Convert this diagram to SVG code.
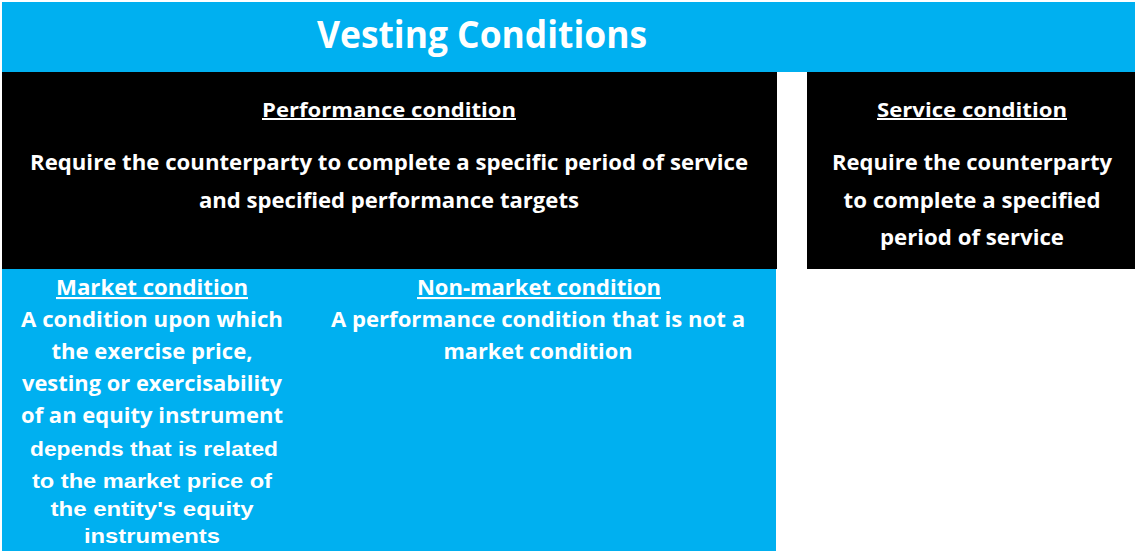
<svg xmlns="http://www.w3.org/2000/svg" width="1135" height="551" viewBox="0 0 1135 551">
<style>
.t{font-family:"Open Sans","Noto Sans",sans-serif;font-weight:bold;fill:#fff;text-anchor:middle}
.a{font-family:"Liberation Sans",Arial,sans-serif;font-weight:bold;fill:#fff;text-anchor:middle}
.u{text-decoration:underline}
.cy{fill:#00B0F0}
.bk{fill:#000}
</style>
<rect width="1135" height="551" fill="#fff"/>
<g id="title">
<rect class="cy" x="2" y="2" width="1133" height="70"/>
<text class="t" x="482" y="48" font-size="38" textLength="330" lengthAdjust="spacingAndGlyphs">Vesting Conditions</text>
</g>
<g id="performance">
<rect class="bk" x="2" y="72" width="775" height="197"/>
<text class="t u" x="389" y="117" font-size="20" textLength="254" lengthAdjust="spacingAndGlyphs">Performance condition</text>
<text class="t" x="389" y="170" font-size="21" textLength="718" lengthAdjust="spacingAndGlyphs">Require the counterparty to complete a specific period of service</text>
<text class="t" x="389" y="208" font-size="21" textLength="380" lengthAdjust="spacingAndGlyphs">and specified performance targets</text>
</g>
<g id="service">
<rect class="bk" x="807" y="72" width="328" height="197"/>
<text class="t u" x="972" y="117" font-size="20" textLength="190" lengthAdjust="spacingAndGlyphs">Service condition</text>
<text class="t" x="972" y="170" font-size="21" textLength="280" lengthAdjust="spacingAndGlyphs">Require the counterparty</text>
<text class="t" x="972" y="208" font-size="21" textLength="257" lengthAdjust="spacingAndGlyphs">to complete a specified</text>
<text class="t" x="972" y="245" font-size="21" textLength="184" lengthAdjust="spacingAndGlyphs">period of service</text>
</g>
<g id="market-area">
<rect class="cy" x="2" y="269" width="774" height="282"/>
</g>
<g id="market">
<text class="t u" x="152" y="295" font-size="21" textLength="192" lengthAdjust="spacingAndGlyphs">Market condition</text>
<text class="t" x="152" y="327" font-size="21" textLength="262" lengthAdjust="spacingAndGlyphs">A condition upon which</text>
<text class="t" x="152" y="359" font-size="21" textLength="201" lengthAdjust="spacingAndGlyphs">the exercise price,</text>
<text class="t" x="152" y="391" font-size="21" textLength="260" lengthAdjust="spacingAndGlyphs">vesting or exercisability</text>
<text class="t" x="152" y="423" font-size="21" textLength="262" lengthAdjust="spacingAndGlyphs">of an equity instrument</text>
<text class="a" x="154" y="456" font-size="21" textLength="248" lengthAdjust="spacingAndGlyphs">depends that is related</text>
<text class="a" x="152" y="488" font-size="21" textLength="240" lengthAdjust="spacingAndGlyphs">to the market price of</text>
<text class="a" x="152" y="516" font-size="21" textLength="203" lengthAdjust="spacingAndGlyphs">the entity's equity</text>
<text class="a" x="152" y="543" font-size="21" textLength="136" lengthAdjust="spacingAndGlyphs">instruments</text>
</g>
<g id="non-market">
<text class="t u" x="539" y="295" font-size="21" textLength="244" lengthAdjust="spacingAndGlyphs">Non-market condition</text>
<text class="t" x="538" y="327" font-size="21" textLength="414" lengthAdjust="spacingAndGlyphs">A performance condition that is not a</text>
<text class="t" x="538" y="359" font-size="21" textLength="189" lengthAdjust="spacingAndGlyphs">market condition</text>
</g>
<g id="connectors"/>
</svg>
